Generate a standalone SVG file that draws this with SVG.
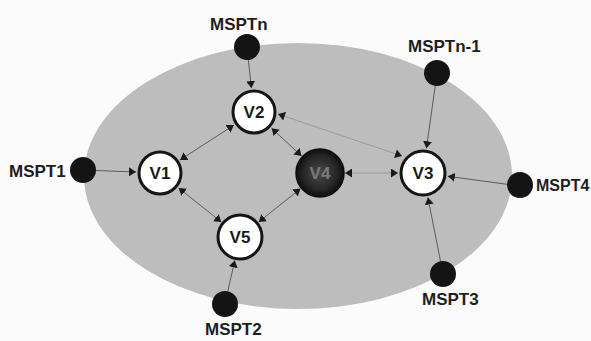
<svg xmlns="http://www.w3.org/2000/svg" width="591" height="341" viewBox="0 0 591 341">
  <style>
    .label { font-family: "Liberation Sans", Arial, sans-serif; font-size: 17px; font-weight: bold; fill: #1e1e1e; }
    .vlabel { font-family: "Liberation Sans", Arial, sans-serif; font-size: 17px; font-weight: bold; fill: #1a1a1a; text-anchor: middle; }
    .vnode { fill: #ffffff; stroke: #151515; stroke-width: 3; }
    .dot { fill: #141414; }
    .edge { stroke: #5a5a5a; stroke-width: 1; fill: none; marker-end: url(#head); }
    .edge2 { stroke: #5a5a5a; stroke-width: 1; fill: none; marker-start: url(#head); marker-end: url(#head); }
    .faint { stroke: #9a9a9a; }
  </style>
  <defs>
    <marker id="head" markerUnits="userSpaceOnUse" markerWidth="8" markerHeight="9" refX="7" refY="4.5" orient="auto-start-reverse">
      <path d="M0,0 L7,4.5 L0,9 z" fill="#1a1a1a"/>
    </marker>
    <radialGradient id="sphere" cx="0.5" cy="0.5" r="0.5">
      <stop offset="0" stop-color="#4a4a4a"/>
      <stop offset="0.7" stop-color="#262626"/>
      <stop offset="1" stop-color="#0e0e0e"/>
    </radialGradient>
  </defs>

  <rect width="591" height="341" fill="#fbfbfb"/>

  <!-- network area -->
  <ellipse id="area" cx="298" cy="176" rx="214" ry="133" fill="#bdbdbd"/>

  <!-- connectors -->
  <g id="connectors">
    <line class="edge" x1="248.4" y1="60" x2="251.4" y2="88.1"/>
    <line class="edge" x1="435.2" y1="85.9" x2="426.5" y2="148.2"/>
    <line class="edge" x1="96" y1="170.5" x2="136" y2="172"/>
    <line class="edge" x1="227.8" y1="291.3" x2="234.8" y2="260.4"/>
    <line class="edge" x1="440.5" y1="261.2" x2="427.9" y2="197.5"/>
    <line class="edge" x1="507.1" y1="184.3" x2="447.8" y2="176.3"/>
    <line class="edge2" x1="180.1" y1="159.9" x2="233.9" y2="125.1"/>
    <line class="edge2" x1="178.7" y1="188" x2="221.3" y2="222"/>
    <line class="edge2" x1="258.7" y1="222" x2="300.5" y2="188.6"/>
    <line class="edge2" x1="271.6" y1="128.3" x2="301.6" y2="156"/>
    <line class="edge2 faint" x1="278" y1="114" x2="402" y2="156"/>
    <line class="edge2 faint" x1="345" y1="173" x2="398" y2="173"/>
  </g>

  <!-- inner nodes -->
  <g id="v1"><circle class="vnode" cx="160" cy="173" r="21"/><text class="vlabel" x="160" y="179">V1</text></g>
  <g id="v2"><circle class="vnode" cx="254" cy="112" r="21"/><text class="vlabel" x="254" y="118">V2</text></g>
  <g id="v3"><circle class="vnode" cx="423" cy="173" r="22"/><text class="vlabel" x="423" y="179">V3</text></g>
  <g id="v4"><circle cx="320" cy="173" r="24" fill="url(#sphere)" stroke="#0c0c0c" stroke-width="1.5"/><text class="vlabel" x="320" y="179" style="fill:#7a7a7a">V4</text></g>
  <g id="v5"><circle class="vnode" cx="240" cy="237" r="22"/><text class="vlabel" x="240" y="243">V5</text></g>

  <!-- MSPT nodes -->
  <g id="msptn"><circle class="dot" cx="247" cy="47" r="13"/><text class="label" x="210" y="30">MSPTn</text></g>
  <g id="msptn-1"><circle class="dot" cx="437" cy="73" r="13"/><text class="label" x="408" y="52">MSPTn-1</text></g>
  <g id="mspt1"><circle class="dot" cx="83" cy="170" r="13"/><text class="label" x="9" y="177">MSPT1</text></g>
  <g id="mspt2"><circle class="dot" cx="225" cy="304" r="13"/><text class="label" x="205" y="335">MSPT2</text></g>
  <g id="mspt3"><circle class="dot" cx="443" cy="274" r="13"/><text class="label" x="422" y="305">MSPT3</text></g>
  <g id="mspt4"><circle class="dot" cx="520" cy="185" r="13"/><text class="label" x="536" y="191" style="font-size:16px">MSPT4</text></g>
</svg>
